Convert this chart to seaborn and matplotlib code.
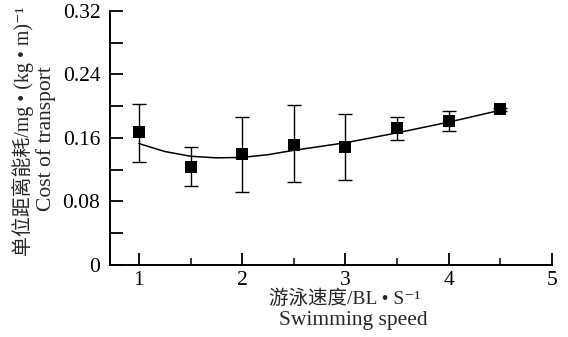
import numpy as np
import pandas as pd
import matplotlib
matplotlib.use("Agg")
import matplotlib.pyplot as plt
import seaborn as sns
from matplotlib.ticker import MultipleLocator, FixedLocator

# ---- data ----
speed = [1.0, 1.5, 2.0, 2.5, 3.0, 3.5, 4.0, 4.5]
cost = [0.167, 0.124, 0.140, 0.151, 0.149, 0.173, 0.182, 0.196]
err_low = [0.130, 0.099, 0.092, 0.104, 0.107, 0.158, 0.169, 0.194]
err_high = [0.203, 0.149, 0.187, 0.201, 0.190, 0.187, 0.194, 0.198]

fit_x = [1.0, 1.25, 1.5, 1.75, 2.0, 2.25, 2.5, 3.0, 3.5, 4.0, 4.5]
fit_y = [0.153, 0.143, 0.137, 0.135, 0.1355, 0.139, 0.1445, 0.154, 0.1665, 0.180, 0.195]

x_ticks = [1, 2, 3, 4, 5]
y_ticks = [0, 0.08, 0.16, 0.24, 0.32]
y_tick_labels = ["0", "0.08", "0.16", "0.24", "0.32"]

sns.set_style("ticks")
fam = ["Liberation Serif", "Noto Sans CJK SC", "DejaVu Serif"]
plt.rcParams["font.family"] = fam

fig = plt.figure(figsize=(5.68, 3.37), dpi=100)
ax = fig.add_axes([110 / 568, 1 - 265 / 337, 442 / 568, 254 / 337])

df_pts = pd.DataFrame({"speed": speed, "cost": cost})
df_fit = pd.DataFrame({"speed": fit_x, "cost": fit_y})

sns.lineplot(data=df_fit, x="speed", y="cost", ax=ax, color="black", lw=1.1, zorder=2)
yerr = [np.array(cost) - np.array(err_low), np.array(err_high) - np.array(cost)]
ax.errorbar(speed, cost, yerr=yerr, fmt="none", ecolor="black", elinewidth=1.0,
            capsize=4.7, capthick=1.0, zorder=3)
sns.scatterplot(data=df_pts, x="speed", y="cost", ax=ax, marker="s", s=75,
                color="black", edgecolor="black", linewidth=0, zorder=4)

ax.set_xlim(0.72, 5.0)
ax.set_ylim(0, 0.32)
ax.xaxis.set_major_locator(FixedLocator(x_ticks))
ax.xaxis.set_minor_locator(FixedLocator([1.5, 2.5, 3.5, 4.5]))
ax.yaxis.set_major_locator(FixedLocator(y_ticks))
ax.set_yticklabels(y_tick_labels)
ax.yaxis.set_minor_locator(MultipleLocator(0.04))

for s in ["top", "right"]:
    ax.spines[s].set_visible(False)
for s in ["left", "bottom"]:
    ax.spines[s].set_linewidth(1.4)
    ax.spines[s].set_color("black")

ax.tick_params(axis="y", which="both", direction="in", length=9, width=1.3,
               labelsize=15.5, pad=7, colors="black")
ax.tick_params(axis="x", which="major", direction="in", length=9, width=1.3,
               labelsize=15.5, pad=4, colors="black")
ax.tick_params(axis="x", which="minor", direction="in", length=5, width=1.3)
ax.set_xlabel("")
ax.set_ylabel("")

fig.text(345 / 568, 1 - 299 / 337, "游泳速度/BL • S⁻¹", ha="center", va="center",
         fontsize=14, family=fam)
fig.text(353 / 568, 1 - 320 / 337, "Swimming speed", ha="center", va="center",
         fontsize=15.5, family=fam)
fig.text(23 / 568, 1 - 131 / 337, "单位距离能耗/mg • (kg • m)⁻¹", ha="center", va="center",
         rotation=90, fontsize=14.3, family=fam)
fig.text(46 / 568, 1 - 139 / 337, "Cost of transport", ha="center", va="center",
         rotation=90, fontsize=15.5, family=fam)

fig.savefig("out.png", dpi=100)
